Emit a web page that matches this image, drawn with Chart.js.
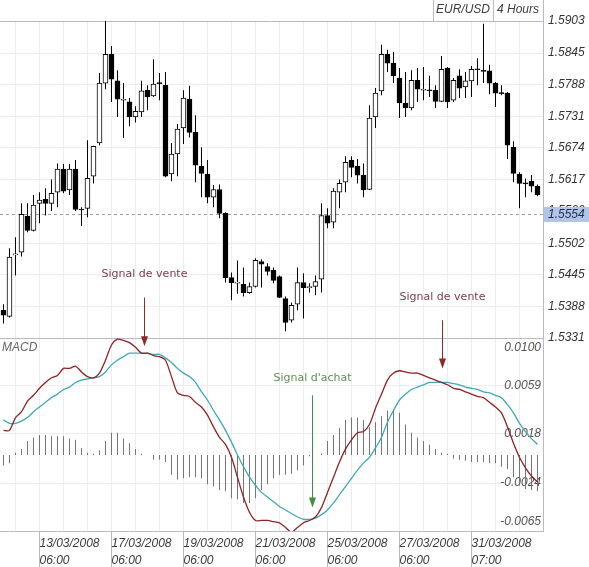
<!DOCTYPE html>
<html>
<head>
<meta charset="utf-8">
<script src="https://cdn.jsdelivr.net/npm/chart.js@4.4.1/dist/chart.umd.min.js"></script>
<style>
  html, body { margin: 0; padding: 0; background: #fff; }
  #chart { display: block; }
</style>
</head>
<body>
<canvas id="chart" width="589" height="567"></canvas>
<script>
// EUR/USD, 4 hour candles
const opens = [
  1.5381, 1.5370, 1.5481, 1.5486, 1.5551, 1.5525, 1.5574, 1.5581, 1.5574, 1.5594,
  1.5636, 1.5598, 1.5636, 1.5563, 1.5565, 1.5623, 1.5683, 1.5791, 1.5843, 1.5795,
  1.5760, 1.5757, 1.5730, 1.5739, 1.5778, 1.5768, 1.5791, 1.5787, 1.5627, 1.5663,
  1.5710, 1.5762, 1.5702, 1.5641, 1.5627, 1.5585, 1.5599, 1.5556, 1.5440, 1.5430,
  1.5428, 1.5413, 1.5424, 1.5469, 1.5460, 1.5453, 1.5442, 1.5402, 1.5363, 1.5392,
  1.5431, 1.5422, 1.5424, 1.5437, 1.5552, 1.5540, 1.5594, 1.5612, 1.5652, 1.5641,
  1.5625, 1.5599, 1.5730, 1.5777, 1.5843, 1.5827, 1.5800, 1.5755, 1.5746, 1.5796,
  1.5778, 1.5778, 1.5778, 1.5758, 1.5818, 1.5760, 1.5804, 1.5784, 1.5795, 1.5816,
  1.5813, 1.5813, 1.5791, 1.5773, 1.5773, 1.5675, 1.5627, 1.5610, 1.5614, 1.5605
];
const highs = [
  1.5392, 1.5493, 1.5513, 1.5574, 1.5574, 1.5589, 1.5594, 1.5601, 1.5617, 1.5646,
  1.5645, 1.5645, 1.5652, 1.5567, 1.5688, 1.5678, 1.5809, 1.5903, 1.5858, 1.5814,
  1.5791, 1.5764, 1.5749, 1.5795, 1.5787, 1.5834, 1.5809, 1.5811, 1.5683, 1.5717,
  1.5778, 1.5786, 1.5733, 1.5675, 1.5652, 1.5607, 1.5608, 1.5558, 1.5449, 1.5471,
  1.5458, 1.5431, 1.5475, 1.5473, 1.5466, 1.5458, 1.5444, 1.5406, 1.5395, 1.5458,
  1.5448, 1.5430, 1.5444, 1.5574, 1.5565, 1.5601, 1.5617, 1.5659, 1.5659, 1.5654,
  1.5646, 1.5751, 1.5782, 1.5860, 1.5851, 1.5847, 1.5818, 1.5811, 1.5814, 1.5818,
  1.5820, 1.5804, 1.5787, 1.5840, 1.5820, 1.5800, 1.5816, 1.5811, 1.5822, 1.5836,
  1.5898, 1.5824, 1.5793, 1.5787, 1.5775, 1.5686, 1.5630, 1.5619, 1.5625, 1.5608
];
const lows = [
  1.5357, 1.5368, 1.5444, 1.5478, 1.5522, 1.5523, 1.5538, 1.5552, 1.5560, 1.5567,
  1.5592, 1.5589, 1.5560, 1.5533, 1.5549, 1.5610, 1.5679, 1.5780, 1.5757, 1.5730,
  1.5692, 1.5713, 1.5720, 1.5730, 1.5742, 1.5766, 1.5760, 1.5621, 1.5614, 1.5623,
  1.5681, 1.5693, 1.5612, 1.5585, 1.5574, 1.5567, 1.5547, 1.5431, 1.5399, 1.5411,
  1.5406, 1.5411, 1.5422, 1.5422, 1.5444, 1.5430, 1.5403, 1.5343, 1.5359, 1.5381,
  1.5366, 1.5413, 1.5408, 1.5413, 1.5529, 1.5529, 1.5565, 1.5594, 1.5621, 1.5610,
  1.5585, 1.5598, 1.5710, 1.5769, 1.5811, 1.5791, 1.5728, 1.5730, 1.5742, 1.5757,
  1.5760, 1.5766, 1.5746, 1.5757, 1.5746, 1.5757, 1.5764, 1.5764, 1.5766, 1.5787,
  1.5791, 1.5771, 1.5748, 1.5769, 1.5654, 1.5612, 1.5565, 1.5585, 1.5594, 1.5587
];
const closes = [
  1.5372, 1.5477, 1.5483, 1.5554, 1.5525, 1.5571, 1.5580, 1.5574, 1.5592, 1.5636,
  1.5596, 1.5636, 1.5563, 1.5562, 1.5619, 1.5677, 1.5791, 1.5843, 1.5798, 1.5762,
  1.5761, 1.5730, 1.5740, 1.5777, 1.5766, 1.5789, 1.5790, 1.5623, 1.5663, 1.5708,
  1.5764, 1.5702, 1.5643, 1.5628, 1.5585, 1.5599, 1.5556, 1.5440, 1.5431, 1.5431,
  1.5413, 1.5424, 1.5471, 1.5464, 1.5451, 1.5435, 1.5404, 1.5359, 1.5390, 1.5431,
  1.5422, 1.5423, 1.5433, 1.5552, 1.5538, 1.5596, 1.5610, 1.5648, 1.5639, 1.5625,
  1.5598, 1.5728, 1.5773, 1.5843, 1.5827, 1.5804, 1.5755, 1.5746, 1.5796, 1.5780,
  1.5779, 1.5777, 1.5758, 1.5816, 1.5757, 1.5796, 1.5782, 1.5795, 1.5816, 1.5815,
  1.5812, 1.5791, 1.5773, 1.5772, 1.5679, 1.5628, 1.5610, 1.5609, 1.5605, 1.5589
];

// MACD pane
const macdLine = [
  0.0021, 0.0021, 0.0032, 0.0037, 0.0046, 0.0051, 0.0057, 0.0062, 0.0066, 0.0068,
  0.0074, 0.0074, 0.0076, 0.0071, 0.0067, 0.0066, 0.0070, 0.0081, 0.0094, 0.0099,
  0.0098, 0.0096, 0.0092, 0.0087, 0.0087, 0.0085, 0.0084, 0.0081, 0.0067, 0.0053,
  0.0051, 0.0050, 0.0045, 0.0041, 0.0034, 0.0024, 0.0015, 0.0009, -0.0002, -0.0019,
  -0.0036, -0.0049, -0.0056, -0.0056, -0.0056, -0.0057, -0.0058, -0.0062, -0.0066, -0.0062,
  -0.0058, -0.0056, -0.0053, -0.0045, -0.0032, -0.0019, -0.0006, 0.0005, 0.0013, 0.0019,
  0.0020, 0.0026, 0.0040, 0.0052, 0.0064, 0.0070, 0.0072, 0.0071, 0.0070, 0.0070,
  0.0068, 0.0066, 0.0064, 0.0062, 0.0060, 0.0057, 0.0056, 0.0054, 0.0052, 0.0050,
  0.0049, 0.0045, 0.0041, 0.0036, 0.0024, 0.0010, -0.0002, -0.0011, -0.0018, -0.0023
];
const signalLine = [
  0.0030, 0.0027, 0.0027, 0.0029, 0.0032, 0.0037, 0.0041, 0.0045, 0.0049, 0.0052,
  0.0056, 0.0058, 0.0062, 0.0064, 0.0065, 0.0066, 0.0067, 0.0071, 0.0077, 0.0081,
  0.0084, 0.0087, 0.0087, 0.0087, 0.0087, 0.0086, 0.0086, 0.0083, 0.0079, 0.0074,
  0.0070, 0.0067, 0.0062, 0.0054, 0.0047, 0.0038, 0.0030, 0.0021, 0.0011, 0.0000,
  -0.0010, -0.0019, -0.0026, -0.0032, -0.0036, -0.0040, -0.0044, -0.0047, -0.0050, -0.0053,
  -0.0055, -0.0055, -0.0054, -0.0051, -0.0047, -0.0041, -0.0034, -0.0027, -0.0020, -0.0013,
  -0.0007, -0.0002, 0.0006, 0.0015, 0.0028, 0.0038, 0.0047, 0.0052, 0.0056, 0.0058,
  0.0060, 0.0062, 0.0062, 0.0062, 0.0062, 0.0061, 0.0060, 0.0058, 0.0057, 0.0056,
  0.0054, 0.0053, 0.0051, 0.0049, 0.0043, 0.0036, 0.0027, 0.0020, 0.0014, 0.0009
];
const histogram = [
  -0.0009, -0.0007, 0.0002, 0.0005, 0.0012, 0.0015, 0.0017, 0.0017, 0.0016, 0.0016,
  0.0016, 0.0014, 0.0013, 0.0006, 0.0002, 0.0001, 0.0004, 0.0012, 0.0019, 0.0019,
  0.0014, 0.0010, 0.0005, 0.0001, 0.0000, -0.0004, -0.0004, -0.0006, -0.0017, -0.0021,
  -0.0020, -0.0019, -0.0019, -0.0020, -0.0025, -0.0027, -0.0030, -0.0031, -0.0037, -0.0038,
  -0.0041, -0.0041, -0.0037, -0.0030, -0.0025, -0.0020, -0.0017, -0.0017, -0.0016, -0.0013,
  -0.0009, -0.0001, 0.0000, 0.0001, 0.0012, 0.0017, 0.0023, 0.0030, 0.0032, 0.0032,
  0.0030, 0.0024, 0.0028, 0.0033, 0.0038, 0.0038, 0.0036, 0.0026, 0.0019, 0.0015,
  0.0012, 0.0009, 0.0005, 0.0002, 0.0001, -0.0003, -0.0004, -0.0005, -0.0006, -0.0006,
  -0.0006, -0.0007, -0.0007, -0.0010, -0.0012, -0.0019, -0.0026, -0.0029, -0.0030, -0.0031
];

// axis ticks
const priceTicks = [1.5331, 1.5388, 1.5445, 1.5502, 1.5560, 1.5617, 1.5674, 1.5731, 1.5788, 1.5845, 1.5903];
const macdTicks = [-0.0065, -0.0024, 0.0018, 0.0059, 0.0100];
const lastPrice = 1.5554;

const xTickIndex = [6, 18, 30, 42, 54, 66, 78];
const xTickDate = ['13/03/2008', '17/03/2008', '19/03/2008', '21/03/2008', '25/03/2008', '27/03/2008', '31/03/2008'];
const xTickTime = ['06:00', '06:00', '06:00', '06:00', '06:00', '06:00', '07:00'];

const headerLabels = ['EUR/USD', '4 Hours'];

// signal annotations: candle index, text anchor, arrow start and tip
const signalText = ['Signal de vente', "Signal d'achat", 'Signal de vente'];
const signalKind = ['sell', 'buy', 'sell'];
const signalIndex = [23.5, 51.4, 73.1];
const signalTextAt = [['price', 1.5446], ['macd', 0.0066], ['price', 1.5404]];
const signalFrom = [['price', 1.5404], ['macd', 0.0051], ['price', 1.5363]];
const signalTo = [['macd', 0.0093], ['macd', -0.0045], ['macd', 0.0074]];

const candleIndex = opens.map((_, i) => i);

const axisFont = { family: '"Liberation Sans", Arial, sans-serif', size: 12, style: 'italic' };
const lineColor = '#b7bbc8';
const gridColor = '#ececf1';
const clear = 'rgba(0,0,0,0)';

const overlay = {
    id: 'overlay',
    beforeDatasetsDraw(chart) {
        const { ctx, chartArea, scales } = chart;
        const y = Math.round(scales.price.getPixelForValue(lastPrice)) + 0.5;
        ctx.save();
        ctx.strokeStyle = '#9d9daa';
        ctx.lineWidth = 1;
        ctx.setLineDash([3, 3]);
        ctx.beginPath();
        ctx.moveTo(chartArea.left, y);
        ctx.lineTo(chartArea.right, y);
        ctx.stroke();
        ctx.restore();
    },
    afterDatasetsDraw(chart) {
        const { ctx, scales } = chart;
        ctx.save();
        ctx.font = '11px "DejaVu Sans", sans-serif';
        ctx.textAlign = 'center';
        ctx.textBaseline = 'middle';
        signalText.forEach((text, i) => {
            const sell = signalKind[i] === 'sell';
            const x = Math.round(scales.x.getPixelForValue(signalIndex[i])) + 0.5;
            const ty = scales[signalTextAt[i][0]].getPixelForValue(signalTextAt[i][1]);
            const y0 = scales[signalFrom[i][0]].getPixelForValue(signalFrom[i][1]);
            const y1 = scales[signalTo[i][0]].getPixelForValue(signalTo[i][1]);
            const arrowColor = sell ? '#8d2a2a' : '#3f8f3f';

            ctx.fillStyle = sell ? '#7d3b4a' : '#5f8e54';
            ctx.fillText(text, x, ty);

            ctx.strokeStyle = arrowColor;
            ctx.fillStyle = arrowColor;
            ctx.lineWidth = 1;
            ctx.beginPath();
            ctx.moveTo(x, y0);
            ctx.lineTo(x, y1 - 6);
            ctx.stroke();
            ctx.beginPath();
            ctx.moveTo(x - 3.5, y1 - 10);
            ctx.lineTo(x + 3.5, y1 - 10);
            ctx.lineTo(x, y1);
            ctx.closePath();
            ctx.fill();
        });
        ctx.restore();
    },
    afterDraw(chart) {
        const { ctx, chartArea, scales } = chart;
        const r = chartArea.right;
        ctx.save();

        // instrument / period header
        ctx.strokeStyle = lineColor;
        ctx.lineWidth = 1;
        [r - 110, r - 50, r].forEach(x => {
            ctx.beginPath();
            ctx.moveTo(Math.round(x) + 0.5, 0);
            ctx.lineTo(Math.round(x) + 0.5, chartArea.top);
            ctx.stroke();
        });
        ctx.font = 'italic 12px "Liberation Sans", Arial, sans-serif';
        ctx.fillStyle = '#3c3c3c';
        ctx.textAlign = 'center';
        ctx.textBaseline = 'middle';
        ctx.fillText(headerLabels[0], r - 80, 10);
        ctx.fillText(headerLabels[1], r - 25, 10);

        // current price marker
        const y = Math.round(scales.price.getPixelForValue(lastPrice));
        ctx.fillStyle = '#b3c5e6';
        ctx.fillRect(r + 1, y - 7, chart.width - r - 1, 15);
        ctx.fillStyle = '#1d2c4c';
        ctx.textAlign = 'left';
        ctx.fillText(lastPrice.toFixed(4), r + 5, y + 0.5);

        // pane title
        ctx.fillStyle = '#666';
        ctx.fillText('MACD', chartArea.left + 2, scales.macd.top + 10);
        ctx.restore();
    }
};

const ctx = document.getElementById('chart').getContext('2d');

new Chart(ctx, {
    type: 'bar',
    data: {
        labels: candleIndex,
        datasets: [
            {
                type: 'line',
                label: 'MACD',
                data: macdLine,
                yAxisID: 'macd',
                borderColor: '#8e2424',
                borderWidth: 1.3,
                pointRadius: 0,
                tension: 0.25,
                order: 0
            },
            {
                type: 'line',
                label: 'Signal',
                data: signalLine,
                yAxisID: 'macd',
                borderColor: '#3eaab5',
                borderWidth: 1.3,
                pointRadius: 0,
                tension: 0.25,
                order: 1
            },
            {
                label: 'Body',
                data: opens.map((o, i) => [o, closes[i]]),
                yAxisID: 'price',
                backgroundColor: closes.map((c, i) => (c > opens[i] ? '#ffffff' : '#000000')),
                borderColor: '#000000',
                borderWidth: 1,
                borderSkipped: false,
                barThickness: 5,
                minBarLength: 1,
                grouped: false,
                order: 2
            },
            {
                label: 'Wick',
                data: lows.map((l, i) => [l, highs[i]]),
                yAxisID: 'price',
                backgroundColor: '#000000',
                barThickness: 1,
                inflateAmount: 0,
                grouped: false,
                order: 3
            },
            {
                label: 'Histogram',
                data: histogram,
                yAxisID: 'macd',
                backgroundColor: '#737373',
                barThickness: 1,
                inflateAmount: 0,
                grouped: false,
                order: 3
            }
        ]
    },
    options: {
        responsive: false,
        animation: false,
        events: [],
        layout: { padding: { top: 21, left: 0, right: 0, bottom: 0 } },
        plugins: {
            legend: { display: false },
            tooltip: { enabled: false }
        },
        scales: {
            x: {
                type: 'linear',
                offset: false,
                min: -0.58,
                max: 89.92,
                afterBuildTicks: (scale) => {
                    scale.ticks = candleIndex.filter(i => i % 4 === 2).map(v => ({ value: v }));
                },
                grid: {
                    offset: false,
                    drawTicks: true,
                    tickLength: 36,
                    color: gridColor,
                    tickColor: (c) => (c.tick && xTickIndex.includes(c.tick.value) ? lineColor : clear)
                },
                border: { display: true, color: lineColor },
                ticks: {
                    autoSkip: false,
                    maxRotation: 0,
                    minRotation: 0,
                    align: 'start',
                    padding: -31,
                    color: '#3c3c3c',
                    font: { ...axisFont, lineHeight: 1.35 },
                    callback: (value) => {
                        const k = xTickIndex.indexOf(value);
                        return k < 0 ? '' : [xTickDate[k], xTickTime[k]];
                    }
                },
                afterFit: (scale) => { scale.height = 36; }
            },
            price: {
                type: 'linear',
                position: 'right',
                stack: 'pane',
                stackWeight: 317,
                min: priceTicks[0],
                max: priceTicks[priceTicks.length - 1],
                afterBuildTicks: (scale) => { scale.ticks = priceTicks.map(v => ({ value: v })); },
                afterFit: (scale) => { scale.width = 46; },
                grid: {
                    drawTicks: false,
                    color: (c) => {
                        if (c.index === 0 || c.index === priceTicks.length - 1) return lineColor;
                        if (c.tick && Math.abs(c.tick.value - lastPrice) < 0.001) return clear;
                        return gridColor;
                    }
                },
                border: { display: true, color: lineColor },
                ticks: {
                    autoSkip: false,
                    padding: 5,
                    color: '#333333',
                    font: axisFont,
                    callback: (value, index) => priceTicks[index].toFixed(4)
                }
            },
            macd: {
                type: 'linear',
                position: 'right',
                stack: 'pane',
                stackWeight: 193,
                min: macdTicks[0],
                max: macdTicks[macdTicks.length - 1],
                afterBuildTicks: (scale) => { scale.ticks = macdTicks.map(v => ({ value: v })); },
                grid: {
                    drawTicks: false,
                    color: (c) => {
                        if (c.index === 0) return clear;
                        if (c.index === macdTicks.length - 1) return lineColor;
                        return gridColor;
                    }
                },
                border: { display: true, color: lineColor },
                ticks: {
                    autoSkip: false,
                    mirror: true,
                    padding: -2,
                    color: '#555555',
                    font: { ...axisFont, lineHeight: 1.6 },
                    callback: (value, index, ticks) => {
                        const text = macdTicks[index].toFixed(4);
                        if (index === 0) return [text, ''];
                        if (index === ticks.length - 1) return ['', text];
                        return text;
                    }
                }
            }
        }
    },
    plugins: [overlay]
});
</script>
</body>
</html>
